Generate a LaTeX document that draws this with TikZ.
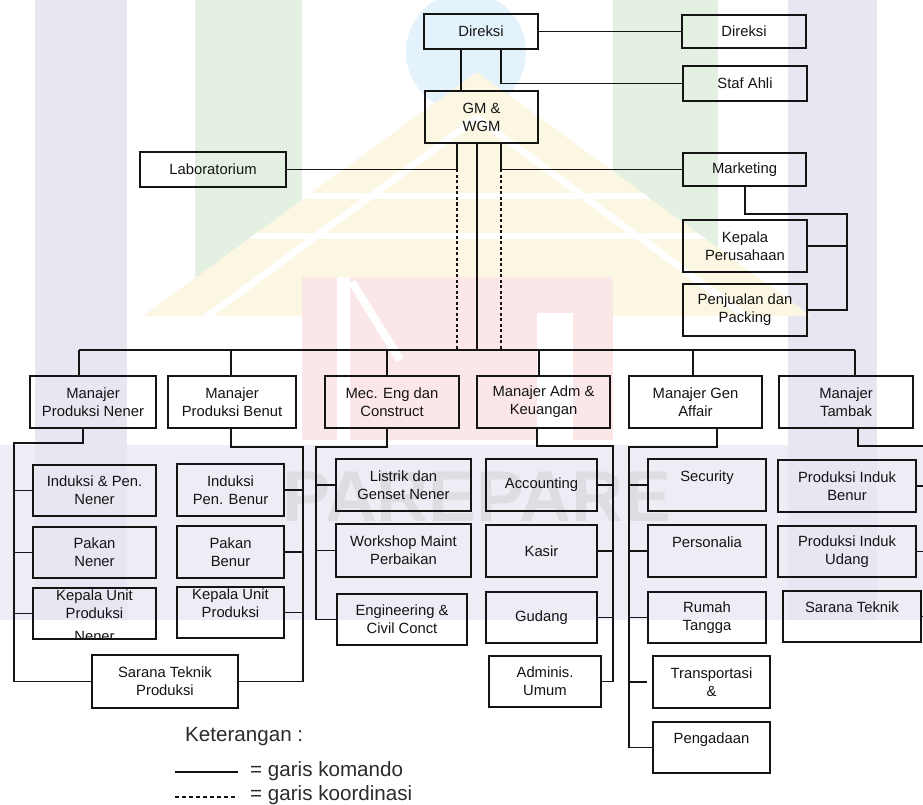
\documentclass[tikz,border=0pt]{standalone}
\usepackage{fontspec}
\setmainfont{Liberation Sans}
\usetikzlibrary{calc}
\definecolor{wmlav}{RGB}{231,231,242}
\definecolor{wmlavb}{RGB}{237,237,245}
\definecolor{wmgreen}{RGB}{228,240,226}
\definecolor{wmyellow}{RGB}{251,247,226}
\definecolor{wmpink}{RGB}{251,231,231}
\definecolor{wmblue}{RGB}{228,242,251}
\definecolor{wmgray}{RGB}{222,222,226}
\definecolor{ink}{RGB}{20,20,20}
\tikzset{
  orgbox/.style={draw=ink, line width=1.9pt, inner sep=0pt, outer sep=0pt, align=center,
    font=\fontsize{14.8}{18}\selectfont, text=ink},
  link/.style={draw=ink, line width=1.9pt},
  coordline/.style={draw=ink, line width=1.6pt, dash pattern=on 3pt off 2.5pt},
  legtext/.style={font=\fontsize{20.6}{23}\selectfont, text=ink!90, anchor=west, inner sep=0pt},
}
\newcommand{\obox}[6]{\node[orgbox, minimum width={(#4-#2)*1pt}, minimum height={(#5-#3)*1pt}] (#1) at ({(#2+#4)/2},{(#3+#5)/2}) {#6};}
\begin{document}
\begin{tikzpicture}[x=1pt,y=-1pt]
\useasboundingbox (0,0) rectangle (923,805);
\clip (0,0) rectangle (923,805);
\fill[white] (0,0) rectangle (923,805);
% ---- watermark (faint) ----
\fill[wmlavb] (0,445) rectangle (923,620);
\fill[wmlav] (35,0) rectangle (127,620);
\fill[wmlav] (788,0) rectangle (877,620);
\fill[wmgreen] (195,0) rectangle (302,277);
\fill[wmgreen] (613,0) rectangle (718,277);
\fill[wmblue] (466,52) circle (60);
\fill[wmyellow] (143,316) -- (477,72) -- (811,316) -- cycle;
\begin{scope}
  \clip (143,316) -- (477,72) -- (811,316) -- cycle;
  \draw[white, line width=7pt] (205,318) -- (477,118) -- (749,318);
  \draw[white, line width=6pt] (143,196) -- (811,196);
  \draw[white, line width=6pt] (143,236) -- (811,236);
\end{scope}
\fill[wmpink] (302,277) rectangle (613,440);
\fill[white] (537,313) rectangle (573,440);
\fill[white] (337,277) -- (350,277) -- (350,440) -- (337,440) -- cycle;
\draw[white, line width=8pt] (352,282) -- (400,360);
\node[font=\fontsize{72}{72}\selectfont\bfseries, text=wmgray] (wm) at (477,497) {PAREPARE};
% ---- boxes ----
\obox{dir1}{424}{14}{538}{49}{Direksi}
\obox{dir2}{682}{15}{806}{48}{Direksi}
\obox{staf}{683}{66}{807}{101}{Staf Ahli}
\obox{gm}{425}{91}{538}{143}{GM \&\\WGM}
\obox{lab}{140}{152}{286}{187}{Laboratorium}
\obox{mkt}{683}{153}{806}{186}{Marketing}
\obox{kp}{683}{220}{807}{272}{Kepala\\Perusahaan}
\obox{pp}{683}{284}{807}{336}{Penjualan dan\\Packing}
\obox{m1}{30}{376}{156}{428}{Manajer\\Produksi Nener}
\obox{m2}{168}{376}{296}{428}{Manajer\\Produksi Benut}
\obox{m3}{325}{376}{459}{428}{Mec. Eng dan\\Construct}
\obox{m4}{477}{376}{610}{428}{Manajer Adm \&\\Keuangan}
\obox{m5}{629}{376}{762}{428}{Manajer Gen\\Affair}
\obox{m6}{779}{376}{913}{428}{Manajer\\Tambak}
\obox{a1}{33}{465}{156}{516}{Induksi \& Pen.\\Nener}
\obox{a2}{33}{527}{156}{578}{Pakan\\Nener}
\obox{a3}{33}{588}{156}{639}{}
\begin{scope}
  \clip (a3.south west) rectangle (a3.north east);
  \node[orgbox, draw=none, anchor=north] (a3t) at ($(a3.north)+(0,2)$) {Kepala Unit\\Produksi\\[5pt]Nener};
\end{scope}
\draw[draw=ink, line width=1.9pt] (a3.south west) rectangle (a3.north east);
\obox{b1}{177}{464}{284}{516}{Induksi\\Pen. Benur}
\obox{b2}{177}{526}{284}{578}{Pakan\\Benur}
\obox{b3}{177}{587}{284}{638}{Kepala Unit\\Produksi\\\mbox{}}
\obox{st}{92}{655}{238}{708}{Sarana Teknik\\Produksi}
\obox{c1}{336}{459}{471}{511}{Listrik dan\\Genset Nener}
\obox{c2}{336}{524}{471}{577}{Workshop Maint\\Perbaikan}
\obox{c3}{337}{594}{467}{645}{Engineering \&\\Civil Conct}
\obox{d1}{486}{459}{597}{511}{Accounting}
\obox{d2}{486}{525}{597}{577}{Kasir}
\obox{d3}{486}{592}{597}{643}{Gudang}
\obox{d4}{489}{656}{601}{707}{Adminis.\\Umum}
\obox{e1}{648}{459}{766}{511}{Security\\\mbox{}}
\obox{e2}{648}{525}{766}{577}{Personalia\\\mbox{}}
\obox{e3}{648}{592}{766}{643}{Rumah\\Tangga}
\obox{e4}{653}{656}{770}{708}{Transportasi\\\&}
\obox{e5}{653}{722}{770}{773}{Pengadaan\\\mbox{}}
\obox{f1}{778}{460}{916}{512}{Produksi Induk\\Benur}
\obox{f2}{778}{526}{916}{577}{Produksi Induk\\Udang}
\obox{f3}{783}{591}{921}{642}{Sarana Teknik\\\mbox{}}
% ---- connectors: top ----
\coordinate (xa) at (461,0);
\coordinate (xb) at (501,0);
\coordinate (xl) at (457,0);
\coordinate (xc) at (477,0);
\coordinate (bus) at (0,350);
\coordinate (busL) at (79,350);
\coordinate (busR) at (855,350);
\draw[link] (dir1.east) -- (dir2.west);
\draw[link] (dir1.south -| xa) -- (gm.north -| xa);
\draw[link] (dir1.south -| xb) |- (staf.west);
\draw[link] (gm.south -| xl) |- (lab.east);
\draw[link] (gm.south -| xb) |- (mkt.west);
\draw[coordline] (lab.east -| xl) -- (bus -| xl);
\draw[coordline] (mkt.west -| xb) -- (bus -| xb);
\draw[link] (gm.south -| xc) -- (bus -| xc);
\coordinate (mx) at (745,214);
\coordinate (mr) at (847,214);
\draw[link] (mkt.south -| mx) -- (mx) -- (mr) |- (pp.east);
\draw[link] (kp.east) -- (kp.east -| mr);
\draw[link] (busL) -- (busR);
\foreach \m/\x in {m1/79, m2/231, m3/387, m4/539, m5/693, m6/855}{
  \draw[link] (bus -| \x,0) -- (\m.north -| \x,0);
}
% ---- column 1 ----
\coordinate (c1a) at (83,443);
\coordinate (c1l) at (14,443);
\draw[link] (m1.south -| c1a) -- (c1a) -- (c1l) |- (st.west);
\foreach \b in {a1,a2,a3} \draw[link] (\b.west -| c1l) -- (\b.west);
% ---- column 2 ----
\coordinate (c2a) at (231,447);
\coordinate (c2r) at (303,447);
\draw[link] (m2.south -| c2a) -- (c2a) -- (c2r) |- (st.east);
\foreach \b in {b1,b2,b3} \draw[link] (\b.east) -- (\b.east -| c2r);
% ---- column 3 ----
\coordinate (c3a) at (387,447);
\coordinate (c3l) at (316,447);
\draw[link] (m3.south -| c3a) -- (c3a) -- (c3l) |- (c3.west);
\foreach \b in {c1,c2} \draw[link] (\b.west -| c3l) -- (\b.west);
% ---- column 4 ----
\coordinate (c4a) at (537,446);
\coordinate (c4r) at (613,446);
\draw[link] (m4.south -| c4a) -- (c4a) -- (c4r) |- (d4.east);
\foreach \b in {d1,d2,d3} \draw[link] (\b.east) -- (\b.east -| c4r);
% ---- column 5 ----
\coordinate (c5a) at (717,447);
\coordinate (c5l) at (629,447);
\draw[link] (m5.south -| c5a) -- (c5a) -- (c5l) |- (e5.west);
\foreach \b in {e1,e2,e3} \draw[link] (\b.west -| c5l) -- (\b.west);
\draw[link] (e4.west -| c5l) -- ($(e4.west)+(-6,0)$);
% ---- column 6 ----
\coordinate (c6a) at (858,446);
\coordinate (c6r) at (926,446);
\draw[link] (m6.south -| c6a) -- (c6a) -- (c6r) |- (f3.east);
\foreach \b in {f1,f2} \draw[link] (\b.east) -- (\b.east -| c6r);
% ---- legend ----
\node[legtext] (leg) at (185,737) {Keterangan :};
\coordinate (l1a) at (175,772);
\coordinate (l1b) at (238,772);
\coordinate (l2a) at (175,797);
\coordinate (l2b) at (238,797);
\draw[draw=ink, line width=1.3pt] (l1a) -- (l1b);
\draw[draw=ink, line width=1.3pt, dash pattern=on 4pt off 3pt] (l2a) -- (l2b);
\node[legtext] (leg1) at (250,771) {= garis komando};
\node[legtext] (leg2) at (250,795) {= garis koordinasi};
\end{tikzpicture}
\end{document}
